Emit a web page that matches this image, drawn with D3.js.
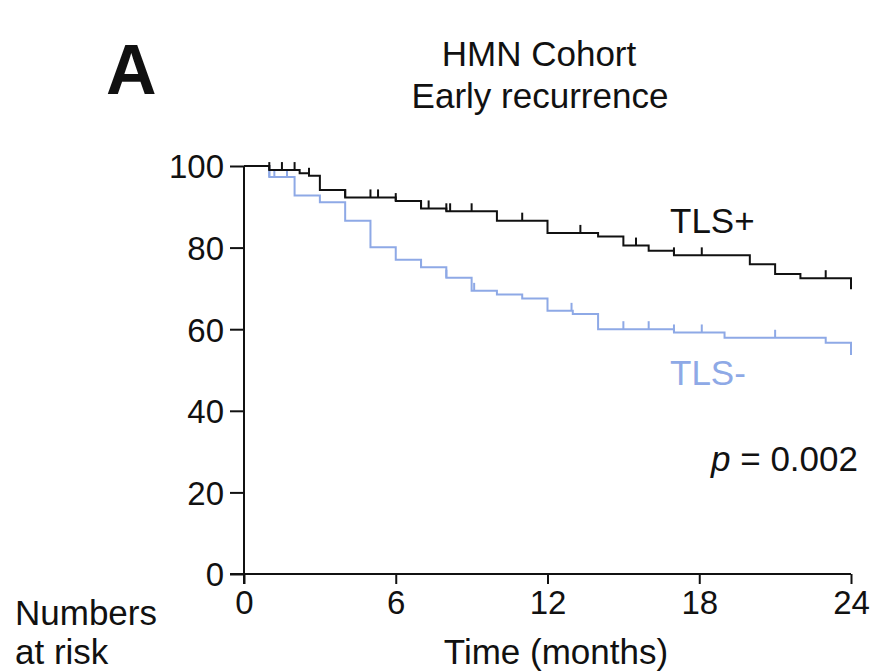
<!DOCTYPE html>
<html>
<head>
<meta charset="utf-8">
<script src="https://cdn.jsdelivr.net/npm/d3@7/dist/d3.min.js"></script>
<style>
  html, body { margin: 0; padding: 0; background: #fff; }
  svg text { font-family: Arial, "Liberation Sans", sans-serif; }
</style>
</head>
<body>
<svg id="chart" width="879" height="672"></svg>
<script>
// ---- data ----
const xTicks = [0, 6, 12, 18, 24];
const yTicks = [0, 20, 40, 60, 80, 100];

const tlsPosTimes  = [0, 1.0, 2.2, 2.57, 3.0, 4.0, 6.0, 7.0, 8.0, 10.0, 12.0, 14.0, 15.0, 16.0, 17.0, 20.0, 21.0, 22.0, 24.0];
const tlsPosValues = [100, 99.0, 98.2, 97.6, 94.1, 92.3, 91.4, 89.6, 88.9, 86.6, 83.6, 82.7, 80.5, 79.2, 78.1, 75.9, 73.5, 72.5, 69.8];
const tlsPosCensor = [1.0, 1.5, 2.0, 2.57, 4.0, 5.0, 5.3, 6.0, 7.0, 7.3, 8.0, 8.15, 9.0, 11.0, 13.3, 15.5, 17.0, 18.1, 23.0];

const tlsNegTimes  = [0, 1.0, 2.0, 3.0, 4.0, 5.0, 6.0, 7.0, 8.0, 9.0, 10.0, 11.0, 12.0, 13.0, 14.0, 17.0, 19.0, 23.0, 24.0];
const tlsNegValues = [100, 97.3, 92.8, 91.1, 86.6, 80.1, 77.0, 75.2, 72.6, 69.4, 68.5, 67.5, 64.5, 63.7, 60.0, 59.2, 57.9, 56.7, 53.7];
const tlsNegCensor = [1.0, 1.2, 1.7, 7.0, 8.0, 9.1, 12.95, 15.0, 16.0, 17.0, 18.1, 21.0];

// ---- layout ----
const svg = d3.select("#chart");
const x = d3.scaleLinear().domain([0, 24]).range([244, 851]);
const y = d3.scaleLinear().domain([0, 100]).range([574, 166]);
const black = "#111111";
const blue = "#8ea9e6";
const FS = 35;
const TFS = 33;

// step lookup
function stepValue(times, values, t) {
  let v = values[0];
  for (let i = 0; i < times.length; i++) { if (times[i] <= t) v = values[i]; }
  return v;
}

// axes
const yAxis = d3.axisLeft(y).tickValues(yTicks).tickSize(14).tickPadding(6).tickFormat(d3.format("d"));
const xAxis = d3.axisBottom(x).tickValues(xTicks).tickSize(10).tickPadding(6).tickFormat(d3.format("d"));

const gy = svg.append("g").attr("transform", `translate(${x(0)},0)`).call(yAxis);
const gx = svg.append("g").attr("transform", `translate(0,${y(0)})`).call(xAxis);
[gy, gx].forEach(g => {
  g.select(".domain").remove();
  g.selectAll(".tick line").attr("stroke", black).attr("stroke-width", 2);
  g.selectAll(".tick text").attr("fill", black).style("font-size", TFS + "px");
});
gy.selectAll(".tick text").attr("dy", "0.36em");
gx.selectAll(".tick text").attr("dy", "0.72em");
// axis lines
svg.append("line").attr("x1", x(0)).attr("x2", x(0)).attr("y1", y(100)).attr("y2", y(0) + 10)
  .attr("stroke", black).attr("stroke-width", 2);
svg.append("line").attr("x1", x(0) - 14).attr("x2", x(24)).attr("y1", y(0)).attr("y2", y(0))
  .attr("stroke", black).attr("stroke-width", 2);

// curves
const line = d3.line().x(d => x(d[0])).y(d => y(d[1])).curve(d3.curveStepAfter);
function drawCurve(times, values, censor, color) {
  const pts = times.map((t, i) => [t, values[i]]);
  svg.append("path").datum(pts).attr("d", line).attr("fill", "none")
    .attr("stroke", color).attr("stroke-width", 2);
  svg.append("g").selectAll("line").data(censor).join("line")
    .attr("x1", d => x(d)).attr("x2", d => x(d))
    .attr("y1", d => y(stepValue(times, values, d)))
    .attr("y2", d => y(stepValue(times, values, d)) - 8)
    .attr("stroke", color).attr("stroke-width", 2);
}
drawCurve(tlsNegTimes, tlsNegValues, tlsNegCensor, blue);
drawCurve(tlsPosTimes, tlsPosValues, tlsPosCensor, black);

// texts
svg.append("text").attr("x", 106).attr("y", 94).attr("font-weight", "bold")
  .style("font-size", "70px").attr("fill", black).text("A");
svg.append("text").attr("x", 539).attr("y", 66).attr("text-anchor", "middle")
  .style("font-size", FS + "px").attr("fill", black).text("HMN Cohort");
svg.append("text").attr("x", 540).attr("y", 108).attr("text-anchor", "middle")
  .style("font-size", FS + "px").attr("fill", black).text("Early recurrence");
svg.append("text").attr("x", 670).attr("y", 233)
  .style("font-size", FS + "px").attr("fill", black).text("TLS+");
svg.append("text").attr("x", 670).attr("y", 385)
  .style("font-size", FS + "px").attr("fill", blue).text("TLS-");
const pt = svg.append("text").attr("x", 858).attr("y", 471).attr("text-anchor", "end")
  .style("font-size", FS + "px").attr("fill", black);
pt.append("tspan").attr("font-style", "italic").text("p");
pt.append("tspan").text(" = 0.002");
svg.append("text").attr("x", 15).attr("y", 625)
  .style("font-size", FS + "px").attr("fill", black).text("Numbers");
svg.append("text").attr("x", 15).attr("y", 664)
  .style("font-size", FS + "px").attr("fill", black).text("at risk");
svg.append("text").attr("x", 556).attr("y", 664).attr("text-anchor", "middle")
  .style("font-size", FS + "px").attr("fill", black).text("Time (months)");
</script>
</body>
</html>
